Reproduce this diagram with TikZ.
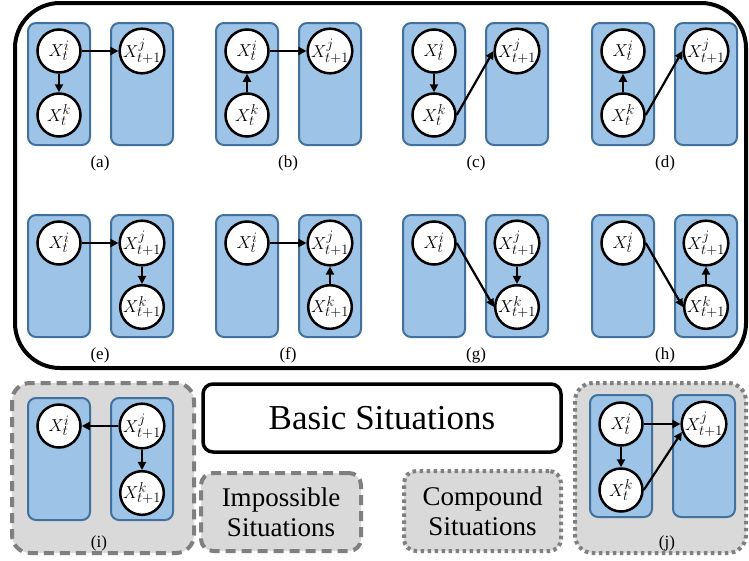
\documentclass[tikz,border=0pt]{standalone}
\usepackage{fontspec}
\setmainfont{Liberation Serif}
\usetikzlibrary{arrows.meta}
\definecolor{colfill}{HTML}{9DC3E6}
\definecolor{coledge}{HTML}{41719C}
\definecolor{grayfill}{HTML}{D9D9D9}
\definecolor{grayedge}{HTML}{7F7F7F}
\newcommand\twocols[2]{%
  \draw[col] (#1,#2) rectangle ++(62,122);
  \draw[col] (#1+83,#2) rectangle ++(62,122);}
\begin{document}
\begin{tikzpicture}[x=1pt,y=-1pt,
  col/.style={draw=coledge, fill=colfill, line width=2pt, rounded corners=8pt},
  var/.style={circle, draw, line width=2.5pt, fill=white, minimum size=43pt, inner sep=0pt, font=\fontsize{19}{19}\selectfont},
  arr/.style={line width=2.2pt, -{Triangle[length=8pt,width=8pt]}},
  sublabel/.style={font=\fontsize{17}{17}\selectfont, inner sep=0pt},
  dashbox/.style={draw=grayedge, fill=grayfill, line width=4pt, dash pattern=on 10pt off 6pt},
  dotbox/.style={draw=grayedge, fill=grayfill, line width=4pt, dash pattern=on 3.5pt off 3.5pt},
]
\useasboundingbox (0,0) rectangle (749,560);
% outer box
\draw[line width=4pt, rounded corners=45pt] (15,3) rectangle (746,368);

% ---------- row 1 ----------
\twocols{28}{23}
\node[var] (ai) at (59,51) {$X_t^i$};
\node[var] (ak) at (59,115) {$X_t^k$};
\node[var] (aj) at (142,51) {$X_{t+1}^j$};
\draw[arr] (ai) -- (aj);
\draw[arr] (ai) -- (ak);
\node[sublabel] (la) at (100,163) {(a)};

\twocols{216}{23}
\node[var] (bi) at (247,51) {$X_t^i$};
\node[var] (bk) at (247,115) {$X_t^k$};
\node[var] (bj) at (330,51) {$X_{t+1}^j$};
\draw[arr] (bi) -- (bj);
\draw[arr] (bk) -- (bi);
\node[sublabel] (lb) at (288,163) {(b)};

\twocols{403}{23}
\node[var] (ci) at (434,51) {$X_t^i$};
\node[var] (ck) at (434,115) {$X_t^k$};
\node[var] (cj) at (517,51) {$X_{t+1}^j$};
\draw[arr] (ci) -- (ck);
\draw[arr] (ck.east) -- (cj.west);
\node[sublabel] (lc) at (476,163) {(c)};

\twocols{592}{23}
\node[var] (di) at (623,51) {$X_t^i$};
\node[var] (dk) at (623,115) {$X_t^k$};
\node[var] (dj) at (706,51) {$X_{t+1}^j$};
\draw[arr] (dk) -- (di);
\draw[arr] (dk.east) -- (dj.west);
\node[sublabel] (ld) at (665,163) {(d)};

% ---------- row 2 ----------
\twocols{28}{215}
\node[var] (ei) at (59,243) {$X_t^i$};
\node[var] (ej) at (142,243) {$X_{t+1}^j$};
\node[var] (ek) at (142,307) {$X_{t+1}^k$};
\draw[arr] (ei) -- (ej);
\draw[arr] (ej) -- (ek);
\node[sublabel] (le) at (100,355) {(e)};

\twocols{216}{215}
\node[var] (fi) at (247,243) {$X_t^i$};
\node[var] (fj) at (330,243) {$X_{t+1}^j$};
\node[var] (fk) at (330,307) {$X_{t+1}^k$};
\draw[arr] (fi) -- (fj);
\draw[arr] (fk) -- (fj);
\node[sublabel] (lf) at (288,355) {(f)};

\twocols{403}{215}
\node[var] (gi) at (434,243) {$X_t^i$};
\node[var] (gj) at (517,243) {$X_{t+1}^j$};
\node[var] (gk) at (517,307) {$X_{t+1}^k$};
\draw[arr] (gi.east) -- (gk.west);
\draw[arr] (gj) -- (gk);
\node[sublabel] (lg) at (476,355) {(g)};

\twocols{592}{215}
\node[var] (hi) at (623,243) {$X_t^i$};
\node[var] (hj) at (706,243) {$X_{t+1}^j$};
\node[var] (hk) at (706,307) {$X_{t+1}^k$};
\draw[arr] (hi.east) -- (hk.west);
\draw[arr] (hk) -- (hj);
\node[sublabel] (lh) at (665,355) {(h)};

% ---------- panel (i) ----------
\draw[dashbox, rounded corners=18pt] (12,383) rectangle (194,553);
\twocols{28}{398}
\node[var] (ii) at (59,426) {$X_t^i$};
\node[var] (ij) at (142,426) {$X_{t+1}^j$};
\node[var] (ik) at (142,493) {$X_{t+1}^k$};
\draw[arr] (ij) -- (ii);
\draw[arr] (ij) -- (ik);
\node[sublabel] (li) at (99,543) {(i)};

% ---------- panel (j) ----------
\draw[dotbox, rounded corners=18pt] (575,383) rectangle (746,553);
\twocols{590}{395}
\node[var] (ji) at (621,424) {$X_t^i$};
\node[var] (jk) at (621,490) {$X_t^k$};
\node[var] (jj) at (704,424) {$X_{t+1}^j$};
\draw[arr] (ji) -- (jj);
\draw[arr] (ji) -- (jk);
\draw[arr] (jk.east) -- (jj.200);
\node[sublabel] (lj) at (667,543) {(j)};

% ---------- legend boxes ----------
\node[draw, line width=3.5pt, rounded corners=10pt, minimum width=358pt, minimum height=68pt,
      font=\fontsize{35}{35}\selectfont] (basic) at (382,418) {Basic Situations};
\node[dashbox, rounded corners=12pt, minimum width=160pt, minimum height=78pt, align=center,
      font=\fontsize{27}{30}\selectfont] (imp) at (281,512) {Impossible\\Situations};
\node[dotbox, rounded corners=12pt, minimum width=157pt, minimum height=80pt, align=center,
      font=\fontsize{27}{30}\selectfont] (comp) at (482.5,511) {Compound\\Situations};
\end{tikzpicture}
\end{document}
